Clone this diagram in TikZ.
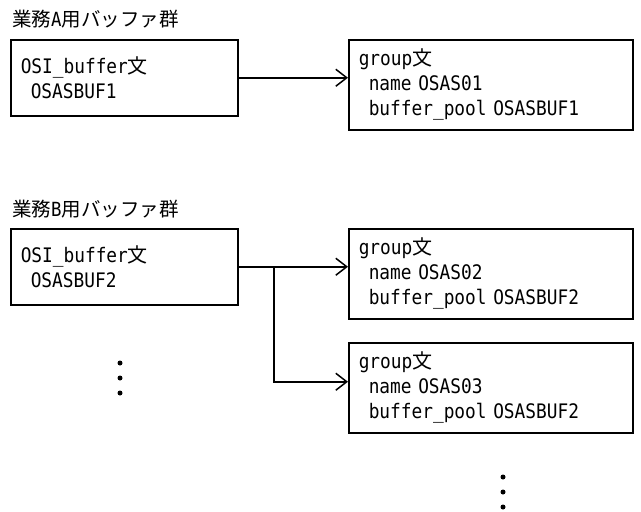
\documentclass[tikz,border=0pt]{standalone}
\usepackage{fontspec}
\setmainfont[FakeStretch=0.89]{DejaVu Sans Mono}
\newfontfamily\jp{Noto Sans CJK JP}
\usetikzlibrary{arrows.meta}
\newcommand\jbun{{\jp 文}}
\begin{document}
\begin{tikzpicture}[x=1pt,y=-1pt,
 box/.style={draw,line width=1.5pt,anchor=north west,inner xsep=10pt,inner ysep=0pt,align=left,font=\fontsize{20}{25}\selectfont},
 titletext/.style={anchor=west,inner sep=0pt,font=\fontsize{19.5}{24}\selectfont},
 conn/.style={line width=1.5pt},
 arr/.style={conn,-{Straight Barb[length=11pt,width=17pt,line width=1.5pt]}},
 dotnode/.style={circle,fill,inner sep=0pt,minimum size=5pt}]
\useasboundingbox (0,0) rectangle (641,512);
\node[titletext] (ta) at (12,19) {{\jp 業務}A{\jp 用バッファ群}};
\node[box,text width=207pt,minimum height=76pt] (a1) at (10,39) {OSI\_buffer\jbun\\\hspace*{10pt}OSASBUF1};
\node[box,text width=264pt,minimum height=90pt] (a2) at (348,39) {group\jbun\\\hspace*{10pt}name OSAS01\\\hspace*{10pt}buffer\_pool OSASBUF1};
\draw[arr] (a1.east) -- (a1.east -| a2.west);

\node[titletext] (tb) at (12,209) {{\jp 業務}B{\jp 用バッファ群}};
\node[box,text width=207pt,minimum height=76pt] (b1) at (10,228) {OSI\_buffer\jbun\\\hspace*{10pt}OSASBUF2};
\node[box,text width=264pt,minimum height=90pt] (b2) at (348,228) {group\jbun\\\hspace*{10pt}name OSAS02\\\hspace*{10pt}buffer\_pool OSASBUF2};
\node[box,text width=264pt,minimum height=90pt] (b3) at (348,342) {group\jbun\\\hspace*{10pt}name OSAS03\\\hspace*{10pt}buffer\_pool OSASBUF2};
\draw[arr] (b1.east) -- (b1.east -| b2.west);
\coordinate (bj) at (274,266);
\draw[arr] (bj) |- ([yshift=6pt]b3.west);

\node[dotnode] (dl1) at (120,363) {};
\node[dotnode] (dl2) at (120,378) {};
\node[dotnode] (dl3) at (120,393) {};
\node[dotnode] (dr1) at (503,477) {};
\node[dotnode] (dr2) at (503,492) {};
\node[dotnode] (dr3) at (503,507) {};
\end{tikzpicture}
\end{document}
